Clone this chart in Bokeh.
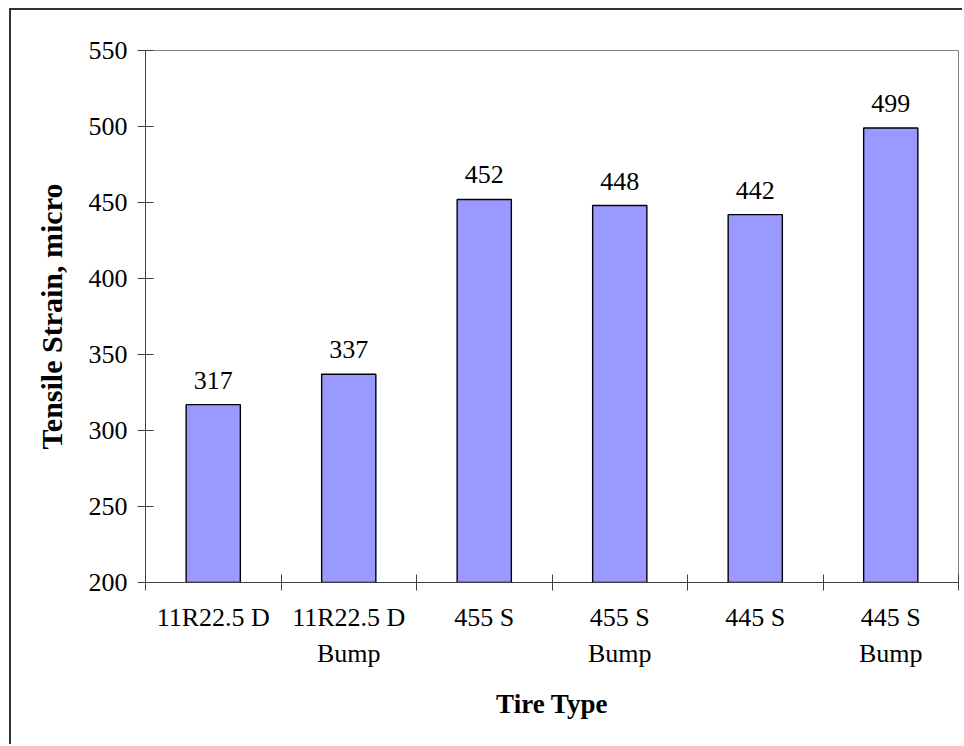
from bokeh.plotting import figure
from bokeh.models import ColumnDataSource, FixedTicker, LabelSet, Range1d
from bokeh.core.properties import value
from bokeh.embed import file_html
from bokeh.resources import INLINE

# Tire types and measured tensile strain
tire_types = ["11R22.5 D", "11R22.5 D\nBump", "455 S", "455 S\nBump", "445 S", "445 S\nBump"]
strain = [317, 337, 452, 448, 442, 499]
y_ticks = [200, 250, 300, 350, 400, 450, 500, 550]

SERIF = "Liberation Serif"

centers = [i + 0.5 for i in range(len(tire_types))]
bounds = [float(i) for i in range(len(tire_types) + 1)]

source = ColumnDataSource(dict(x=centers, top=strain, label=[str(v) for v in strain]))

p = figure(
    width=953, height=736,
    x_range=Range1d(0, len(tire_types)), y_range=Range1d(200, 550),
    output_backend="svg", toolbar_location=None,
    min_border_left=134, min_border_right=6, min_border_top=40, min_border_bottom=164,
    background_fill_color="white", border_fill_color="white",
)
p.styles = {
    "margin-left": "9px", "margin-top": "8px",
    "border-left": "2px solid #333333", "border-top": "2px solid #333333",
}
p.outline_line_color = "#808080"
p.outline_line_width = 1
p.xgrid.visible = False
p.ygrid.visible = False

p.vbar(x="x", top="top", bottom=200, width=0.4, source=source,
       fill_color="#9999FF", line_color="black", line_width=1.4)

p.add_layout(LabelSet(x="x", y="top", text="label", source=source,
                      text_align="center", text_baseline="alphabetic", y_offset=16,
                      text_font=value(SERIF), text_font_size="26px", text_color="black"))

# x axis: category names centred, tick marks at the category boundaries
xa = p.xaxis[0]
xa.ticker = FixedTicker(ticks=centers, minor_ticks=bounds)
xa.major_label_overrides = {c: t for c, t in zip(centers, tire_types)}
xa.major_tick_in = 0
xa.major_tick_out = 0
xa.minor_tick_in = 8
xa.minor_tick_out = 8
xa.minor_tick_line_color = "#404040"
xa.axis_line_color = "#404040"
xa.major_label_text_font = SERIF
xa.major_label_text_font_size = "26px"
xa.major_label_text_color = "black"
xa.major_label_text_line_height = 1.25
xa.major_label_standoff = 12
xa.axis_label = "Tire Type"
xa.axis_label_text_font = SERIF
xa.axis_label_text_font_size = "27px"
xa.axis_label_text_font_style = "bold"
xa.axis_label_text_color = "black"
xa.axis_label_standoff = 18

ya = p.yaxis[0]
ya.ticker = FixedTicker(ticks=y_ticks, minor_ticks=[])
ya.major_tick_in = 8
ya.major_tick_out = 8
ya.major_tick_line_color = "#404040"
ya.axis_line_color = "#404040"
ya.major_label_text_font = SERIF
ya.major_label_text_font_size = "26px"
ya.major_label_text_color = "black"
ya.major_label_standoff = 10
ya.axis_label = "Tensile Strain, micro"
ya.axis_label_text_font = SERIF
ya.axis_label_text_font_size = "30px"
ya.axis_label_text_font_style = "bold"
ya.axis_label_text_color = "black"
ya.axis_label_standoff = 18

open("out.html", "w").write(file_html(p, INLINE))
